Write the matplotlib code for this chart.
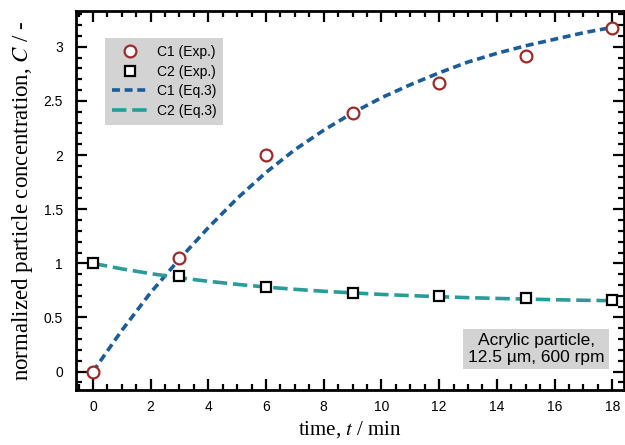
import matplotlib
matplotlib.use("Agg")
import matplotlib.pyplot as plt
from matplotlib.ticker import MultipleLocator

plt.rcParams["mathtext.fontset"] = "stix"

# Experimental data
t_exp = [0, 3, 6, 9, 12, 15, 18]
c1_exp = [0.0, 1.05, 2.0, 2.39, 2.67, 2.92, 3.17]
c2_exp = [1.0, 0.88, 0.78, 0.73, 0.70, 0.68, 0.66]

# Model curves (Eq.3)
t_mod = [0, 1, 2, 3, 4, 5, 6, 7, 8, 9, 10, 11, 12, 13, 14, 15, 16, 17, 18]
c1_mod = [0.0, 0.38, 0.73, 1.04, 1.33, 1.60, 1.84, 2.05, 2.23, 2.39, 2.53, 2.65, 2.76, 2.86, 2.94, 3.01, 3.07, 3.13, 3.18]
c2_mod = [1.0, 0.949, 0.905, 0.867, 0.834, 0.806, 0.781, 0.760, 0.742, 0.727, 0.713, 0.702, 0.692, 0.683, 0.676, 0.670, 0.664, 0.659, 0.655]

xticks = [0, 2, 4, 6, 8, 10, 12, 14, 16, 18]
yticks = [0, 0.5, 1, 1.5, 2, 2.5, 3]
yticklabels = ["0", "0.5", "1", "1.5", "2", "2.5", "3"]

fig = plt.figure(figsize=(6.25, 4.45), dpi=100)
ax = fig.add_axes([0.121, 0.1236, 0.878, 0.8514])

blue = "#1c5c98"
teal = "#2a9c98"
red = "#9b2a2a"

ax.plot(t_mod, c1_mod, color=blue, lw=2.6, ls=(0, (2.2, 1.3)), label="C1 (Eq.3)", zorder=2)
ax.plot(t_mod, c2_mod, color=teal, lw=2.6, ls=(0, (4.0, 1.6)), label="C2 (Eq.3)", zorder=2)
ax.plot(t_exp, c1_exp, ls="none", marker="o", ms=8.5, mfc="white", mec=red, mew=1.6,
        label="C1 (Exp.)", zorder=3)
ax.plot(t_exp, c2_exp, ls="none", marker="s", ms=7.5, mfc="white", mec="black", mew=1.6,
        label="C2 (Exp.)", zorder=3)

ax.set_xlim(-0.6, 18.42)
ax.set_ylim(-0.17, 3.33)
ax.set_xticks(xticks)
ax.set_yticks(yticks)
ax.set_yticklabels(yticklabels)
ax.xaxis.set_minor_locator(MultipleLocator(0.5))
ax.yaxis.set_minor_locator(MultipleLocator(0.1))
ax.tick_params(which="both", direction="in", top=True, right=True, width=1.6,
               labelsize=10, labelfontfamily="Liberation Sans")
ax.tick_params(which="major", length=8)
ax.tick_params(axis="y", which="major", pad=9)
ax.tick_params(axis="x", which="major", pad=7)
ax.tick_params(which="minor", length=4)
for s in ax.spines.values():
    s.set_linewidth(2)

ax.set_xlabel("time, $t$ / min", family="Liberation Serif", fontsize=15, labelpad=4)
ax.set_ylabel("normalized particle concentration, $C$ / -", family="Liberation Serif",
              fontsize=16.5, labelpad=6)

h, l = ax.get_legend_handles_labels()
order = [2, 3, 0, 1]
leg = ax.legend([h[i] for i in order], [l[i] for i in order], loc="upper left",
                bbox_to_anchor=(0.054, 0.929), borderaxespad=0, frameon=True, fancybox=False,
                prop={"family": "Liberation Sans", "size": 10}, handlelength=2.6,
                borderpad=0.5, labelspacing=0.4, handletextpad=0.6)
leg.get_frame().set_facecolor("#d3d3d3")
leg.get_frame().set_edgecolor("none")
leg.get_frame().set_alpha(1)

ax.text(0.839, 0.108, "Acrylic particle,\n12.5 µm, 600 rpm", transform=ax.transAxes,
        ha="center", va="center", family="Liberation Sans", fontsize=12.5, linespacing=1.15,
        bbox=dict(boxstyle="square,pad=0.25", fc="#d3d3d3", ec="none"))

fig.savefig("out.png", dpi=100)
